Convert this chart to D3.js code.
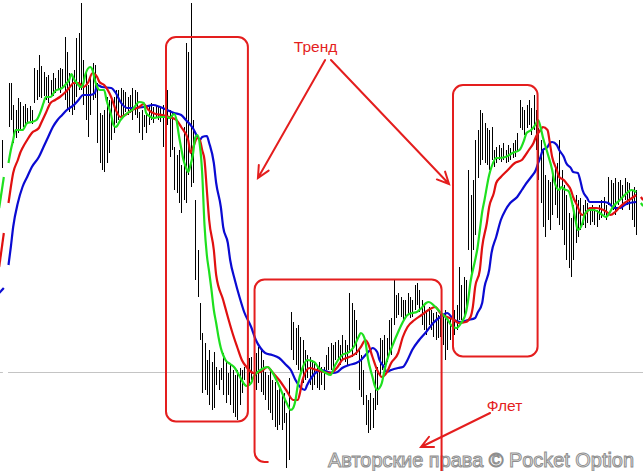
<!DOCTYPE html>
<html><head><meta charset="utf-8">
<script src="https://cdn.jsdelivr.net/npm/d3@7"></script>
<style>html,body{margin:0;padding:0;background:#fff;overflow:hidden}</style>
</head><body><svg id="c" width="643" height="471"></svg>
<script>
// ---- DATA (price in points; bar index = time) ----
const barHigh = [null,360,null,null,
417,417,395,390,402,398,394,396,392,394,390,432,430,
445,434,428,423,425,420,427,422,430,432,431,463,448,
427,425,430,462,467,497,440,430,415,423,437,435,417,387,385,390,
403,400,400,403,410,410,412,410,408,403,405,412,410,408,
388,390,385,387,395,397,393,395,394,392,395,405,410,390,388,
353,345,350,335,373,457,448,497,380,300,250,
197,167,157,140,150,138,148,133,130,132,147,140,127,135,130,125,130,132,130,133,
143,142,143,140,147,153,150,140,128,125,130,120,118,110,115,105,107,87,122,
188,178,172,175,163,160,150,145,143,140,138,135,138,133,133,145,153,157,155,158,160,155,165,160,155,
207,197,190,180,150,145,130,105,100,107,102,130,133,162,160,165,162,180,182,
220,205,207,203,200,200,207,203,200,215,217,210,200,195,190,193,190,187,188,185,188,185,190,180,182,200,190,195,233,215,223,220,
330,305,320,360,370,390,387,377,372,370,373,350,353,355,352,357,350,355,352,357,360,367,400,393,390,395,400,392,405,390,
372,360,350,325,320,318,330,335,337,360,330,315,305,287,282,295,305,300,302,295,300,297,293,295,292,290,295,300,303,295,323,320,317,322,318,320,315,322,318,317,310,313,310];
const barLow = [null,332,null,null,
373,380,357,362,367,370,373,376,378,379,376,397,400,
403,402,404,400,397,403,404,407,410,407,412,400,390,
388,385,390,403,410,410,395,380,363,385,400,402,357,337,330,328,
337,347,360,367,377,380,383,385,388,385,387,380,385,382,
367,360,373,367,375,380,377,382,380,378,353,360,375,343,350,
310,307,297,287,300,297,325,313,317,220,203,
160,107,110,105,95,90,92,115,110,120,105,97,105,95,87,83,80,95,107,120,
125,115,120,118,110,117,108,105,100,90,87,80,73,70,75,70,77,32,40,
150,140,135,130,125,117,120,122,115,110,115,112,110,115,110,130,130,130,128,140,142,135,140,138,135,
147,143,155,145,110,103,95,75,67,70,72,90,95,125,130,135,138,148,145,
175,182,185,183,180,182,185,182,183,190,195,188,175,170,165,175,170,163,160,162,163,155,140,150,160,163,165,170,180,180,185,190,
250,225,250,265,322,335,340,337,335,330,340,333,337,340,338,340,337,338,340,342,343,348,372,370,365,372,375,365,370,350,
320,297,273,263,280,270,285,295,282,275,270,255,240,232,223,240,257,263,270,275,272,277,275,278,275,273,280,282,285,280,295,293,290,285,295,300,290,300,295,290,280,273,265];

const greenHead = [[0,292],[2,323]];
const redHead = [[0,233],[2,267]];
const blueHead = [[0,207],[2,212]];
const greenTail = [[275,297],[276,294]];
const redTail = [[275,303],[276,300]];

const greenMA = [[4,337],[5,350],[6,360],[7,370],[9,370],[10,370],[12,377],[14,378],[16,380],[18,390],[19,397],[20,403],[22,403],[24,409],[26,411],[27,412],[29,417],[30,420],[31,426],[32,421],[33,418],[35,413],[36,416],[37,426],[39,433],[40,430],[41,420],[42,413],[43,410],[45,410],[46,400],[48,385],[49,375],[50,373],[52,380],[55,387],[57,390],[60,398],[62,397],[63,387],[65,383],[66,382],[69,383],[72,383],[73,382],[75,386],[76,380],[77,365],[78,352],[79,340],[80,333],[81,328],[82,335],[83,345],[84,362],[85,365],[86,355],[87,327],[88,275],[89,245],[90,228],[91,210],[92,190],[93,177],[94,163],[95,152],[96,145],[97,140],[99,136],[101,132],[103,124],[105,116],[106,114],[108,117],[109,123],[112,130],[115,133],[117,128],[120,114],[123,98],[125,90],[126,92],[127,100],[128,115],[130,132],[132,140],[135,138],[137,132],[140,127],[142,125],[144,135],[147,145],[150,148],[152,153],[154,163],[155,167],[156,165],[157,158],[158,142],[160,123],[161,114],[162,110],[163,112],[164,117],[165,128],[166,138],[167,145],[169,157],[171,168],[173,178],[175,185],[177,187],[179,188],[181,192],[183,197],[184,198],[187,193],[189,188],[192,181],[194,174],[196,172],[198,177],[200,187],[201,200],[202,218],[204,240],[205,252],[206,270],[207,288],[208,300],[210,325],[211,333],[213,342],[214,342],[217,343],[220,347],[223,350],[225,360],[226,367],[228,370],[230,376],[231,380],[232,373],[233,363],[235,347],[237,330],[238,318],[240,310],[241,313],[242,311],[243,310],[244,309],[246,292],[247,280],[248,270],[250,277],[251,286],[253,290],[255,290],[258,286],[260,283],[261,285],[263,293],[266,300],[269,307],[271,310],[273,308]];

const redMA = [[4,297],[5,313],[6,327],[8,340],[9,347],[10,352],[12,360],[14,367],[17,372],[18,377],[20,387],[22,397],[24,400],[26,403],[28,407],[30,412],[32,417],[34,417],[36,413],[38,417],[40,427],[42,423],[43,418],[45,415],[48,403],[50,390],[52,383],[54,385],[57,390],[60,393],[62,396],[64,390],[67,386],[70,385],[73,383],[76,380],[78,373],[81,360],[82,347],[83,352],[85,362],[86,360],[87,350],[88,340],[89,310],[90,280],[92,250],[93,225],[96,200],[98,183],[100,167],[102,153],[104,140],[106,133],[108,128],[109,127],[112,128],[115,133],[117,128],[120,120],[123,110],[126,100],[128,100],[129,108],[130,120],[133,132],[136,130],[139,128],[142,127],[145,133],[147,140],[150,143],[153,147],[155,153],[157,160],[158,157],[160,143],[162,130],[164,123],[166,127],[168,137],[171,147],[173,163],[175,173],[178,180],[181,185],[184,190],[187,193],[189,187],[192,183],[195,180],[197,177],[200,178],[202,183],[203,193],[204,213],[206,230],[207,253],[209,277],[210,293],[212,307],[213,317],[215,323],[218,330],[221,337],[224,340],[225,343],[227,350],[229,357],[230,363],[232,370],[233,373],[235,370],[236,357],[237,343],[239,330],[240,323],[242,320],[243,317],[245,310],[246,303],[248,293],[249,287],[250,285],[252,288],[253,292],[256,292],[259,290],[261,287],[262,285],[264,288],[266,293],[268,297],[270,300],[273,305]];

const blueMA = [[4,235],[5,253],[6,273],[8,297],[10,313],[12,323],[14,333],[17,343],[19,353],[21,363],[23,373],[25,380],[27,385],[29,390],[32,395],[34,400],[36,405],[39,405],[41,407],[42,415],[44,413],[48,412],[50,407],[52,398],[55,392],[57,392],[62,393],[66,395],[69,393],[72,390],[75,387],[78,385],[80,380],[83,372],[85,363],[86,360],[87,363],[89,364],[90,357],[92,337],[93,317],[95,293],[96,273],[98,257],[99,240],[101,220],[103,203],[105,188],[108,173],[110,160],[112,152],[114,147],[117,145],[120,142],[123,135],[125,130],[127,120],[129,113],[131,110],[132,115],[134,123],[136,128],[138,130],[141,128],[143,127],[145,128],[147,132],[150,135],[153,137],[155,140],[157,145],[159,150],[160,152],[162,148],[163,140],[165,133],[166,128],[168,130],[171,132],[173,133],[175,140],[177,150],[180,160],[183,168],[186,177],[189,183],[192,187],[195,180],[198,178],[201,180],[204,182],[205,187],[207,197],[208,213],[210,230],[211,247],[213,263],[215,280],[217,290],[219,297],[222,303],[224,310],[226,317],[228,323],[230,330],[231,337],[232,343],[233,350],[235,353],[236,357],[237,358],[239,355],[240,350],[242,343],[243,337],[245,332],[246,328],[248,327],[249,320],[250,310],[252,302],[253,298],[256,298],[259,298],[261,297],[263,293],[264,292],[266,292],[268,295],[270,297],[273,298]];

const levelPrice = 128;
const labels = ["Тренд", "Флет"];
const watermark = "Авторские права © Pocket Option";

// annotation boxes in data space (bar index from, to, price top, price bottom)
const boxes = [[71.5,106.6,463,78.5],[109.45,189.6,220.5,38],[194.5,230.75,415,143.5]];

// ---- DRAW ----
const W = 643, H = 471;
const svg = d3.select("#c");
const x = d3.scaleLinear().domain([0, 273]).range([-0.833, 636.17]);
const y = d3.scaleLinear().domain([500, 29]).range([0, 471]);

// horizontal level line (with gap like source)
const ly = Math.round(y(levelPrice)) + 0.5;
const g0 = svg.append("g").attr("stroke", "#c4c4c4").attr("stroke-width", 1);
g0.append("line").attr("x1", 0).attr("x2", x(1.6)).attr("y1", ly).attr("y2", ly);
g0.append("line").attr("x1", x(3.8)).attr("x2", W).attr("y1", ly).attr("y2", ly);

// bars
const bars = barHigh.map((h, i) => ({ i, h, l: barLow[i] })).filter(d => d.h != null);
svg.append("g").selectAll("line").data(bars).join("line")
  .attr("x1", d => Math.round(x(d.i)) + 0.5).attr("x2", d => Math.round(x(d.i)) + 0.5)
  .attr("y1", d => y(d.h)).attr("y2", d => y(d.l))
  .attr("stroke", "#000").attr("stroke-width", 1).attr("shape-rendering", "crispEdges");

const line = d3.line().x(d => x(d[0])).y(d => y(d[1])).curve(d3.curveMonotoneX);
function drawLine(data, color) {
  svg.append("path").datum(data).attr("d", line).attr("fill", "none")
    .attr("stroke", color).attr("stroke-width", 2.2).attr("stroke-linejoin", "round").attr("stroke-linecap", "butt");
}
drawLine(blueHead, "#0a0ad2"); drawLine(blueMA, "#0a0ad2");
drawLine(redHead, "#e01010"); drawLine(redMA, "#e01010"); drawLine(redTail, "#e01010");
drawLine(greenHead, "#1ee01e"); drawLine(greenMA, "#1ee01e"); drawLine(greenTail, "#1ee01e");

// watermark
svg.append("text").text(watermark)
  .attr("x", 328).attr("y", 467)
  .attr("font-family", "Liberation Sans, Arial, sans-serif").attr("font-size", 20)
  .attr("textLength", 306).attr("lengthAdjust", "spacingAndGlyphs")
  .attr("fill", "#f3f3f3").attr("stroke", "#8e8e8e").attr("stroke-width", 1);

// annotation boxes
const red = "#e41e1e";
const r = 10;
boxes.forEach((b, k) => {
  const x0 = x(b[0]), x1 = x(b[1]), y0 = y(b[2]), y1 = y(b[3]);
  const p = d3.path();
  if (k === 1) {
    // bottom edge runs out under the watermark: corner stub on left, right side runs off the bottom
    p.moveTo(x0 + r + 4, y1);
    p.arcTo(x0, y1, x0, y1 - r, r);
    p.lineTo(x0, y0 + r);
    p.arcTo(x0, y0, x0 + r, y0, r);
    p.lineTo(x1 - r, y0);
    p.arcTo(x1, y0, x1, y0 + r, r);
    p.lineTo(x1, H);
  } else {
    p.moveTo(x0 + r, y0);
    p.lineTo(x1 - r, y0); p.arcTo(x1, y0, x1, y0 + r, r);
    p.lineTo(x1, y1 - r); p.arcTo(x1, y1, x1 - r, y1, r);
    p.lineTo(x0 + r, y1); p.arcTo(x0, y1, x0, y1 - r, r);
    p.lineTo(x0, y0 + r); p.arcTo(x0, y0, x0 + r, y0, r);
    p.closePath();
  }
  svg.append("path").attr("d", p.toString()).attr("fill", "none")
    .attr("stroke", red).attr("stroke-width", 2);
});

// arrows [from index, from price, to index, to price]
const arrows = [[139.7,440,110.9,322],[142.2,440,192.8,316],[210.4,87,180.8,53]];
arrows.forEach(a => {
  const x1 = x(a[0]), y1 = y(a[1]), x2 = x(a[2]), y2 = y(a[3]);
  const ang = Math.atan2(y2 - y1, x2 - x1), L = 13, sp = 0.45;
  const p = d3.path();
  p.moveTo(x1, y1); p.lineTo(x2, y2);
  p.moveTo(x2 - L * Math.cos(ang - sp), y2 - L * Math.sin(ang - sp));
  p.lineTo(x2, y2);
  p.lineTo(x2 - L * Math.cos(ang + sp), y2 - L * Math.sin(ang + sp));
  svg.append("path").attr("d", p.toString()).attr("fill", "none")
    .attr("stroke", red).attr("stroke-width", 2).attr("stroke-linejoin", "miter").attr("stroke-linecap", "round");
});

// labels
svg.append("text").text(labels[0]).attr("x", x(135.6)).attr("y", y(448))
  .attr("text-anchor", "middle").attr("font-family", "Liberation Sans, Arial, sans-serif")
  .attr("font-size", 15.5).attr("fill", red);
svg.append("text").text(labels[1]).attr("x", x(216.6)).attr("y", y(89))
  .attr("text-anchor", "middle").attr("font-family", "Liberation Sans, Arial, sans-serif")
  .attr("font-size", 15.5).attr("fill", red);
</script>
</body></html>
